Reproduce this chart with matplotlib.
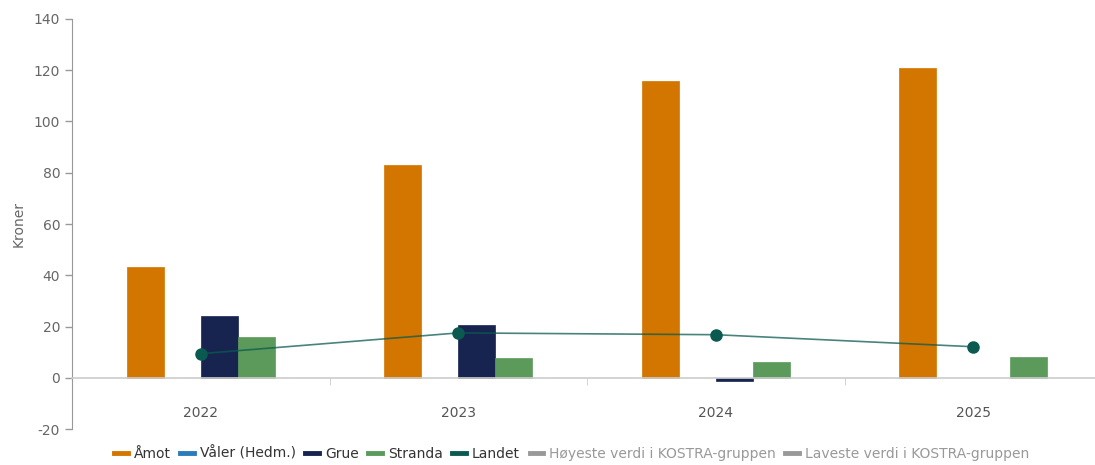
import numpy as np
import matplotlib.pyplot as plt
from matplotlib.lines import Line2D

plt.rcParams["axes.unicode_minus"] = False

years = ["2022", "2023", "2024", "2025"]
amot = [43.3, 83.0, 115.8, 120.9]
valer = [np.nan, np.nan, np.nan, np.nan]
grue = [24.2, 20.7, -1.2, np.nan]
stranda = [16.0, 7.8, 6.2, 8.2]
landet = [9.4, 17.5, 16.8, 12.1]

bar_series = [("Åmot", amot, "#d37600"),
              ("Våler (Hedm.)", valer, "#2b7bba"),
              ("Grue", grue, "#172450"),
              ("Stranda", stranda, "#5b9a5b")]

fig = plt.figure(figsize=(10.95, 4.65), dpi=100)
ax = fig.add_axes([72 / 1095, 36 / 465, 1023 / 1095, 410 / 465])

x = np.arange(len(years))
w = 0.1437
for i, (name, vals, col) in enumerate(bar_series):
    ax.bar(x + (i - 1.5) * w, vals, width=w, color=col, edgecolor=col,
           linewidth=0.5, zorder=2)

# Landet as line with markers
ax.plot(x, landet, color="#0a5a50", lw=1.2, alpha=0.75, zorder=3)
ax.plot(x, landet, "o", color="#0a5a50", ms=8, zorder=4)

ax.set_xlim(-0.5, -0.5 + 1023 / 257.5)
ax.set_ylim(-20, 140)
ax.set_yticks(range(-20, 141, 20))
ax.tick_params(axis="y", colors="#999999", labelsize=10, length=5,
               width=1, labelcolor="#666666")
ax.set_ylabel("Kroner", color="#666666", fontsize=10, labelpad=6)

ax.spines["top"].set_visible(False)
ax.spines["right"].set_visible(False)
ax.spines["left"].set_color("#999999")
ax.spines["bottom"].set_position(("data", 0))
ax.spines["bottom"].set_color("#cccccc")
ax.spines["bottom"].set_linewidth(1.2)

ax.set_xticks(x)
ax.set_xticklabels(years)
ax.set_xticks(np.arange(0.5, 3.5, 1), minor=True)
ax.tick_params(axis="x", which="major", length=0, pad=20,
               labelsize=10, labelcolor="#555555")
ax.tick_params(axis="x", which="minor", length=5, color="#cccccc")

legend_items = [("Åmot", "#d37600", "#333333"),
                ("Våler (Hedm.)", "#2b7bba", "#333333"),
                ("Grue", "#172450", "#333333"),
                ("Stranda", "#5b9a5b", "#333333"),
                ("Landet", "#0a5a50", "#333333"),
                ("Høyeste verdi i KOSTRA-gruppen", "#999999", "#999999"),
                ("Laveste verdi i KOSTRA-gruppen", "#999999", "#999999")]
handles = [Line2D([0], [0], color=c, lw=3.5) for _, c, _ in legend_items]
leg = fig.legend(handles, [n for n, _, _ in legend_items], loc="lower center",
                 bbox_to_anchor=(0.522, -0.018), ncol=7, frameon=False,
                 fontsize=10, handlelength=1.0, handletextpad=0.4,
                 columnspacing=0.7)
for t, (_, _, tc) in zip(leg.get_texts(), legend_items):
    t.set_color(tc)

plt.savefig("out.png", dpi=100)
